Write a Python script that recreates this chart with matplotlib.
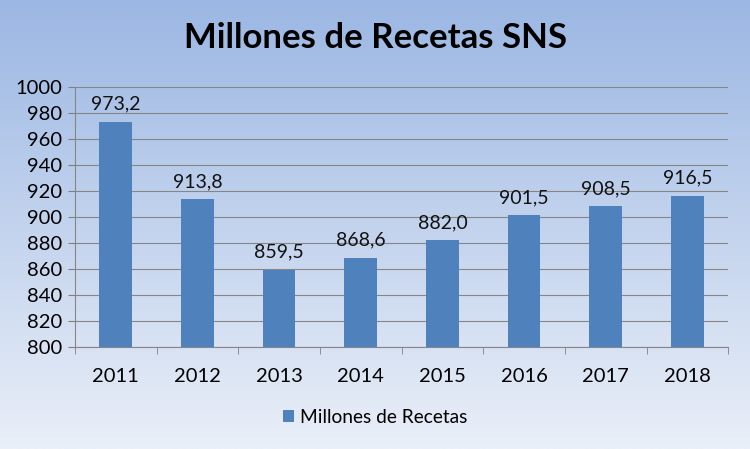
import matplotlib.pyplot as plt
import numpy as np

years = ['2011', '2012', '2013', '2014', '2015', '2016', '2017', '2018']
recetas = [973.2, 913.8, 859.5, 868.6, 882.0, 901.5, 908.5, 916.5]
labels = ['973,2', '913,8', '859,5', '868,6', '882,0', '901,5', '908,5', '916,5']

plt.rcParams['font.family'] = ['Lato', 'DejaVu Sans']

fig = plt.figure(figsize=(7.5, 4.49), dpi=100)

# background gradient
bg = fig.add_axes([0, 0, 1, 1])
top = np.array([0x9b, 0xb7, 0xe3]) / 255
bot = np.array([0xea, 0xef, 0xf8]) / 255
t = np.linspace(0, 1, 256)[:, None]
grad = top * (1 - t) + bot * t
bg.imshow(grad[:, None, :], aspect='auto', extent=[0, 1, 0, 1])
bg.axis('off')

ax = fig.add_axes([0.1, 0.227, 0.871, 0.579])
ax.patch.set_alpha(0)
x = np.arange(len(years))
ax.bar(x, recetas, width=0.4, color='#4f81bd', zorder=3, label='Millones de Recetas')
for xi, v, s in zip(x, recetas, labels):
    ax.text(xi, v + 7, s, ha='center', va='bottom', fontsize=14, color='#111111')

ax.set_ylim(800, 1000)
ax.set_yticks(range(800, 1001, 20))
ax.set_xlim(-0.5, len(years) - 0.5)
ax.set_xticks(x)
ax.set_xticklabels(years)
ax.set_xticks(np.arange(-0.5, len(years)), minor=True)
ax.tick_params(axis='x', which='major', length=0, pad=15, labelsize=14.5)
ax.tick_params(axis='x', which='minor', length=5, color='#7f7f7f')
ax.tick_params(axis='y', length=5, color='#7f7f7f', labelsize=14.5, pad=4)
ax.grid(axis='y', color='#868686', linewidth=0.8, zorder=0)
for side in ['top', 'right']:
    ax.spines[side].set_visible(False)
for side in ['left', 'bottom']:
    ax.spines[side].set_color('#868686')

fig.text(0.5, 0.915, 'Millones de Recetas SNS', ha='center', va='center',
         fontsize=25, fontweight='bold', color='black')

fig.legend(loc='center', bbox_to_anchor=(0.5, 0.07), frameon=False, fontsize=13.8,
           handlelength=0.6, handleheight=0.6, handletextpad=0.3)

fig.savefig('out.png', dpi=100)
